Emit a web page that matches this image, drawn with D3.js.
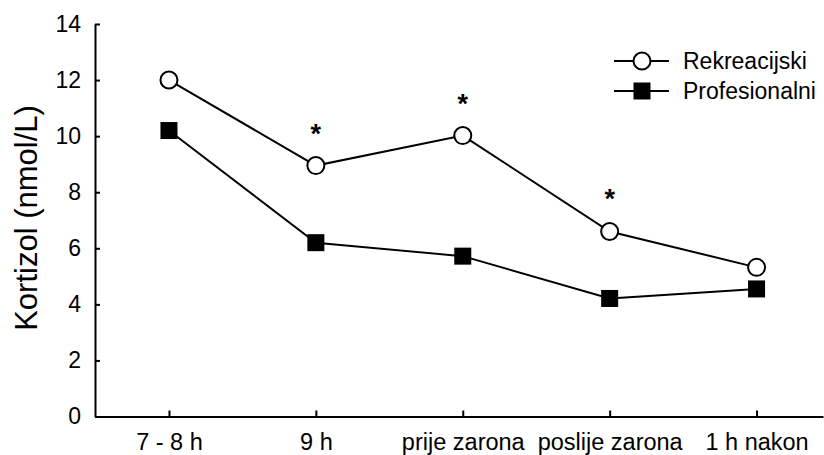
<!DOCTYPE html>
<html><head><meta charset="utf-8">
<script src="https://cdn.jsdelivr.net/npm/d3@7"></script>
<style>html,body{margin:0;padding:0;background:#fff;}svg{display:block;font-family:"Liberation Sans",Arial,sans-serif;}</style>
</head><body>
<svg id="c" width="824" height="455"></svg>
<script>
const categories = ["7 - 8 h", "9 h", "prije zarona", "poslije zarona", "1 h nakon"];
const rekreacijski = [12.0, 8.95, 10.02, 6.6, 5.32];
const profesionalni = [10.2, 6.2, 5.72, 4.21, 4.55];
const significant = [false, true, true, true, false];
const yTicks = [0, 2, 4, 6, 8, 10, 12, 14];
const seriesNames = ["Rekreacijski", "Profesionalni"];

const svg = d3.select("#c");
const x = d3.scaleLinear().domain([-0.5035, 4.4523]).range([95, 823]);
const y = d3.scaleLinear().domain([0, 14]).range([416.5, 24]);

// y axis
const yAxis = d3.axisLeft(y).tickValues(yTicks).tickSize(-5).tickPadding(14).tickSizeOuter(0);
const gy = svg.append("g").attr("transform", `translate(${x.range()[0]},0)`).call(yAxis);
gy.select(".domain").attr("stroke", "#000").attr("stroke-width", 2);
gy.selectAll(".tick line").attr("stroke", "#000").attr("stroke-width", 2);
gy.selectAll(".tick text").attr("font-size", 23).attr("fill", "#000").attr("font-family", "Liberation Sans, Arial, sans-serif");

// x axis
const xAxis = d3.axisBottom(x).tickValues(d3.range(categories.length)).tickFormat(i => categories[i]).tickSize(-6).tickPadding(17).tickSizeOuter(0);
const gx = svg.append("g").attr("transform", `translate(0,${y(0)})`).call(xAxis);
gx.select(".domain").attr("stroke", "#000").attr("stroke-width", 2);
gx.selectAll(".tick line").attr("stroke", "#000").attr("stroke-width", 2);
gx.selectAll(".tick text").attr("font-size", 23.5).attr("fill", "#000").attr("font-family", "Liberation Sans, Arial, sans-serif");

// y title
svg.append("text").attr("transform", `translate(37,218) rotate(-90)`)
  .attr("text-anchor", "middle").attr("font-size", 31).attr("fill", "#000").text("Kortizol (nmol/L)");

const line = d3.line().x((d, i) => x(i)).y(d => y(d));
svg.append("path").datum(profesionalni).attr("d", line).attr("fill", "none").attr("stroke", "#000").attr("stroke-width", 2);
svg.append("path").datum(rekreacijski).attr("d", line).attr("fill", "none").attr("stroke", "#000").attr("stroke-width", 2);

const sq = 17;
svg.selectAll("rect.p").data(profesionalni).enter().append("rect").attr("class", "p")
  .attr("x", (d, i) => x(i) - sq / 2).attr("y", d => y(d) - sq / 2).attr("width", sq).attr("height", sq).attr("fill", "#000");
svg.selectAll("circle.r").data(rekreacijski).enter().append("circle").attr("class", "r")
  .attr("cx", (d, i) => x(i)).attr("cy", d => y(d)).attr("r", 8.5).attr("fill", "#fff").attr("stroke", "#000").attr("stroke-width", 2);

// significance stars
svg.selectAll("text.star").data(rekreacijski.map((v, i) => ({v, i})).filter(d => significant[d.i])).enter()
  .append("text").attr("class", "star").attr("x", d => x(d.i)).attr("y", d => y(d.v) - 23)
  .attr("text-anchor", "middle").attr("font-size", 27).attr("font-weight", "bold").attr("fill", "#000").text("*");

// legend
const lg = svg.append("g");
const ly = [61, 91];
seriesNames.forEach((name, k) => {
  lg.append("line").attr("x1", 614).attr("x2", 669).attr("y1", ly[k]).attr("y2", ly[k]).attr("stroke", "#000").attr("stroke-width", 2);
  if (k === 0) lg.append("circle").attr("cx", 642).attr("cy", ly[k]).attr("r", 8.5).attr("fill", "#fff").attr("stroke", "#000").attr("stroke-width", 2);
  else lg.append("rect").attr("x", 642 - sq / 2).attr("y", ly[k] - sq / 2).attr("width", sq).attr("height", sq).attr("fill", "#000");
  lg.append("text").attr("x", 683).attr("y", ly[k]).attr("dy", "0.35em").attr("font-size", 23).attr("fill", "#000").text(name);
});
</script>
</body></html>
